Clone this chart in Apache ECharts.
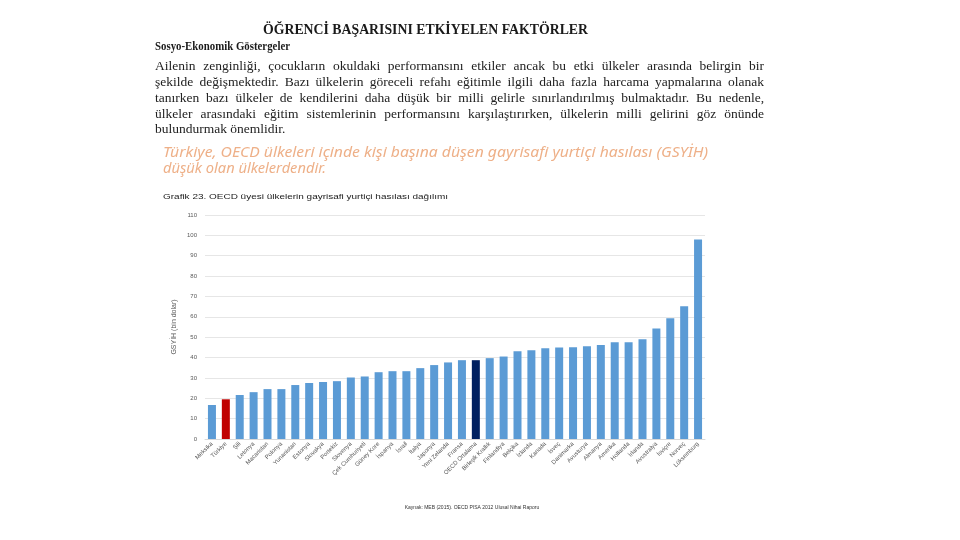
<!DOCTYPE html>
<html><head><meta charset="utf-8">
<script src="https://cdn.jsdelivr.net/npm/echarts@6/dist/echarts.min.js"></script>
<style>html,body{margin:0;padding:0;background:#fff}#c{width:960px;height:540px}</style>
</head><body><div id="c"></div>
<script>
const categories = ["Meksika","Türkiye","Şili","Letonya","Macaristan","Polonya","Yunanistan","Estonya","Slovakya","Portekiz","Slovenya","Çek Cumhuriyeti","Güney Kore","İspanya","İsrail","İtalya","Japonya","Yeni Zelanda","Fransa","OECD Ortalama","Birleşik Krallık","Finlandiya","Belçika","İzlanda","Kanada","İsveç","Danimarka","Avusturya","Almanya","Amerika","Hollanda","İrlanda","Avustralya","İsviçre","Norveç","Lüksemburg"];
const values = [16.7,19.5,21.6,23.0,24.5,24.5,26.5,27.5,28.0,28.4,30.2,30.7,32.8,33.3,33.3,34.8,36.3,37.6,38.7,38.7,39.7,40.5,43.1,43.6,44.6,44.9,45.1,45.6,46.1,47.5,47.5,49.0,54.3,59.3,65.2,98.0];
const yMin = 0, yMax = 110, yStep = 10;
const pageTitle = "ÖĞRENCİ BAŞARISINI ETKİYELEN FAKTÖRLER";
const sectionTitle = "Sosyo-Ekonomik Göstergeler";
const paragraphLines = [
  "Ailenin zenginliği, çocukların okuldaki performansını etkiler ancak bu etki ülkeler arasında belirgin bir",
  "şekilde değişmektedir. Bazı ülkelerin göreceli refahı eğitimle ilgili daha fazla harcama yapmalarına olanak",
  "tanırken bazı ülkeler de kendilerini daha düşük bir milli gelirle sınırlandırılmış bulmaktadır. Bu nedenle,",
  "ülkeler arasındaki eğitim sistemlerinin performansını karşılaştırırken, ülkelerin milli gelirini göz önünde",
  "bulundurmak önemlidir."
];
const highlightLines = [
  "Türkiye, OECD ülkeleri içinde kişi başına düşen gayrisafi yurtiçi hasılası (GSYİH)",
  "düşük olan ülkelerdendir."
];
const chartCaption = "Grafik 23. OECD üyesi ülkelerin gayrisafi yurtiçi hasılası dağılımı";
const yAxisName = "GSYİH (bin dolar)";
const sourceText = "Kaynak: MEB (2015). OECD PISA 2012 Ulusal Nihai Raporu";

const barColor = "#5b9bd5";
const specialColors = {"Türkiye": "#c00000", "OECD Ortalama": "#002060"};

const cv = document.createElement('canvas').getContext('2d');
function measure(text, font){ cv.font = font; return cv.measureText(text).width; }

const graphics = [];
function fitText(text, x, y, width, size, family, weight, style, fill){
  const font = `${style||'normal'} ${weight||'normal'} ${size}px ${family}`;
  const w = measure(text, font);
  graphics.push({type:'text', x:x, y:y, scaleX: width ? width / w : 1,
    style:{text:text, font:font, fill:fill, textAlign:'left', textVerticalAlign:'middle'}});
}
function justify(text, x, y, width, size, family, fill, last){
  const font = `normal normal ${size}px ${family}`;
  const words = text.split(' ');
  const natural = measure(text, font);
  const spaceW = measure(' ', font);
  let s = 1;
  if (!last && natural > width) s = width / natural;
  const ws = words.map(w => measure(w, font) * s);
  const total = ws.reduce((a,b)=>a+b, 0);
  const gap = last ? spaceW * s : (width - total) / (words.length - 1);
  let cx = x;
  words.forEach((w, i) => {
    graphics.push({type:'text', x:cx, y:y, scaleX:s,
      style:{text:w, font:font, fill:fill, textAlign:'left', textVerticalAlign:'middle'}});
    cx += ws[i] + gap;
  });
}

const serif = '"Liberation Serif", "DejaVu Serif", serif';
const sans = '"Liberation Sans", Arial, sans-serif';
fitText(pageTitle, 263, 30, 325, 15, serif, 'bold', 'normal', '#1a1a1a');
fitText(sectionTitle, 155, 47, 135, 13.5, serif, 'bold', 'normal', '#1a1a1a');
const lineYs = [66, 82, 98, 114, 129];
paragraphLines.forEach((l, i) => justify(l, 155, lineYs[i], 609, 13.5, serif, '#222', i === paragraphLines.length - 1));
fitText(highlightLines[0], 163, 153, 545, 14, '"Noto Sans", sans-serif', 'normal', 'italic', '#eeb088');
fitText(highlightLines[1], 163, 169, 163, 14, '"Noto Sans", sans-serif', 'normal', 'italic', '#eeb088');
fitText(chartCaption, 163, 197, 285, 8, sans, 'normal', 'normal', '#222');
graphics.push({type:'text', x:472, y:508, style:{text:sourceText, font:`normal 5px ${sans}`, fill:'#333', textAlign:'center', textVerticalAlign:'middle'}});

const chart = echarts.init(document.getElementById('c'));
chart.setOption({
  backgroundColor: '#fff',
  animation: false,
  grid: {left: 205, right: 255, top: 215, bottom: 101, containLabel: false},
  xAxis: {
    type: 'category', data: categories,
    axisTick: {show: false},
    axisLine: {show: true, lineStyle: {color: '#d9d9d9'}},
    axisLabel: {interval: 0, rotate: 45, fontSize: 6, color: '#595959', margin: 4, fontFamily: sans}
  },
  yAxis: {
    type: 'value', min: yMin, max: yMax, interval: yStep,
    name: yAxisName, nameLocation: 'middle', nameGap: 27, nameMoveOverlap: false,
    nameTextStyle: {fontSize: 7, color: '#595959', fontFamily: sans},
    axisLine: {show: false}, axisTick: {show: false},
    axisLabel: {fontSize: 6, color: '#595959', margin: 8, fontFamily: sans},
    splitLine: {lineStyle: {color: '#e6e6e6', width: 1}}
  },
  series: [{
    type: 'bar', data: values, barWidth: 8,
    itemStyle: {color: p => specialColors[categories[p.dataIndex]] || barColor}
  }],
  graphic: graphics
});
</script></body></html>
